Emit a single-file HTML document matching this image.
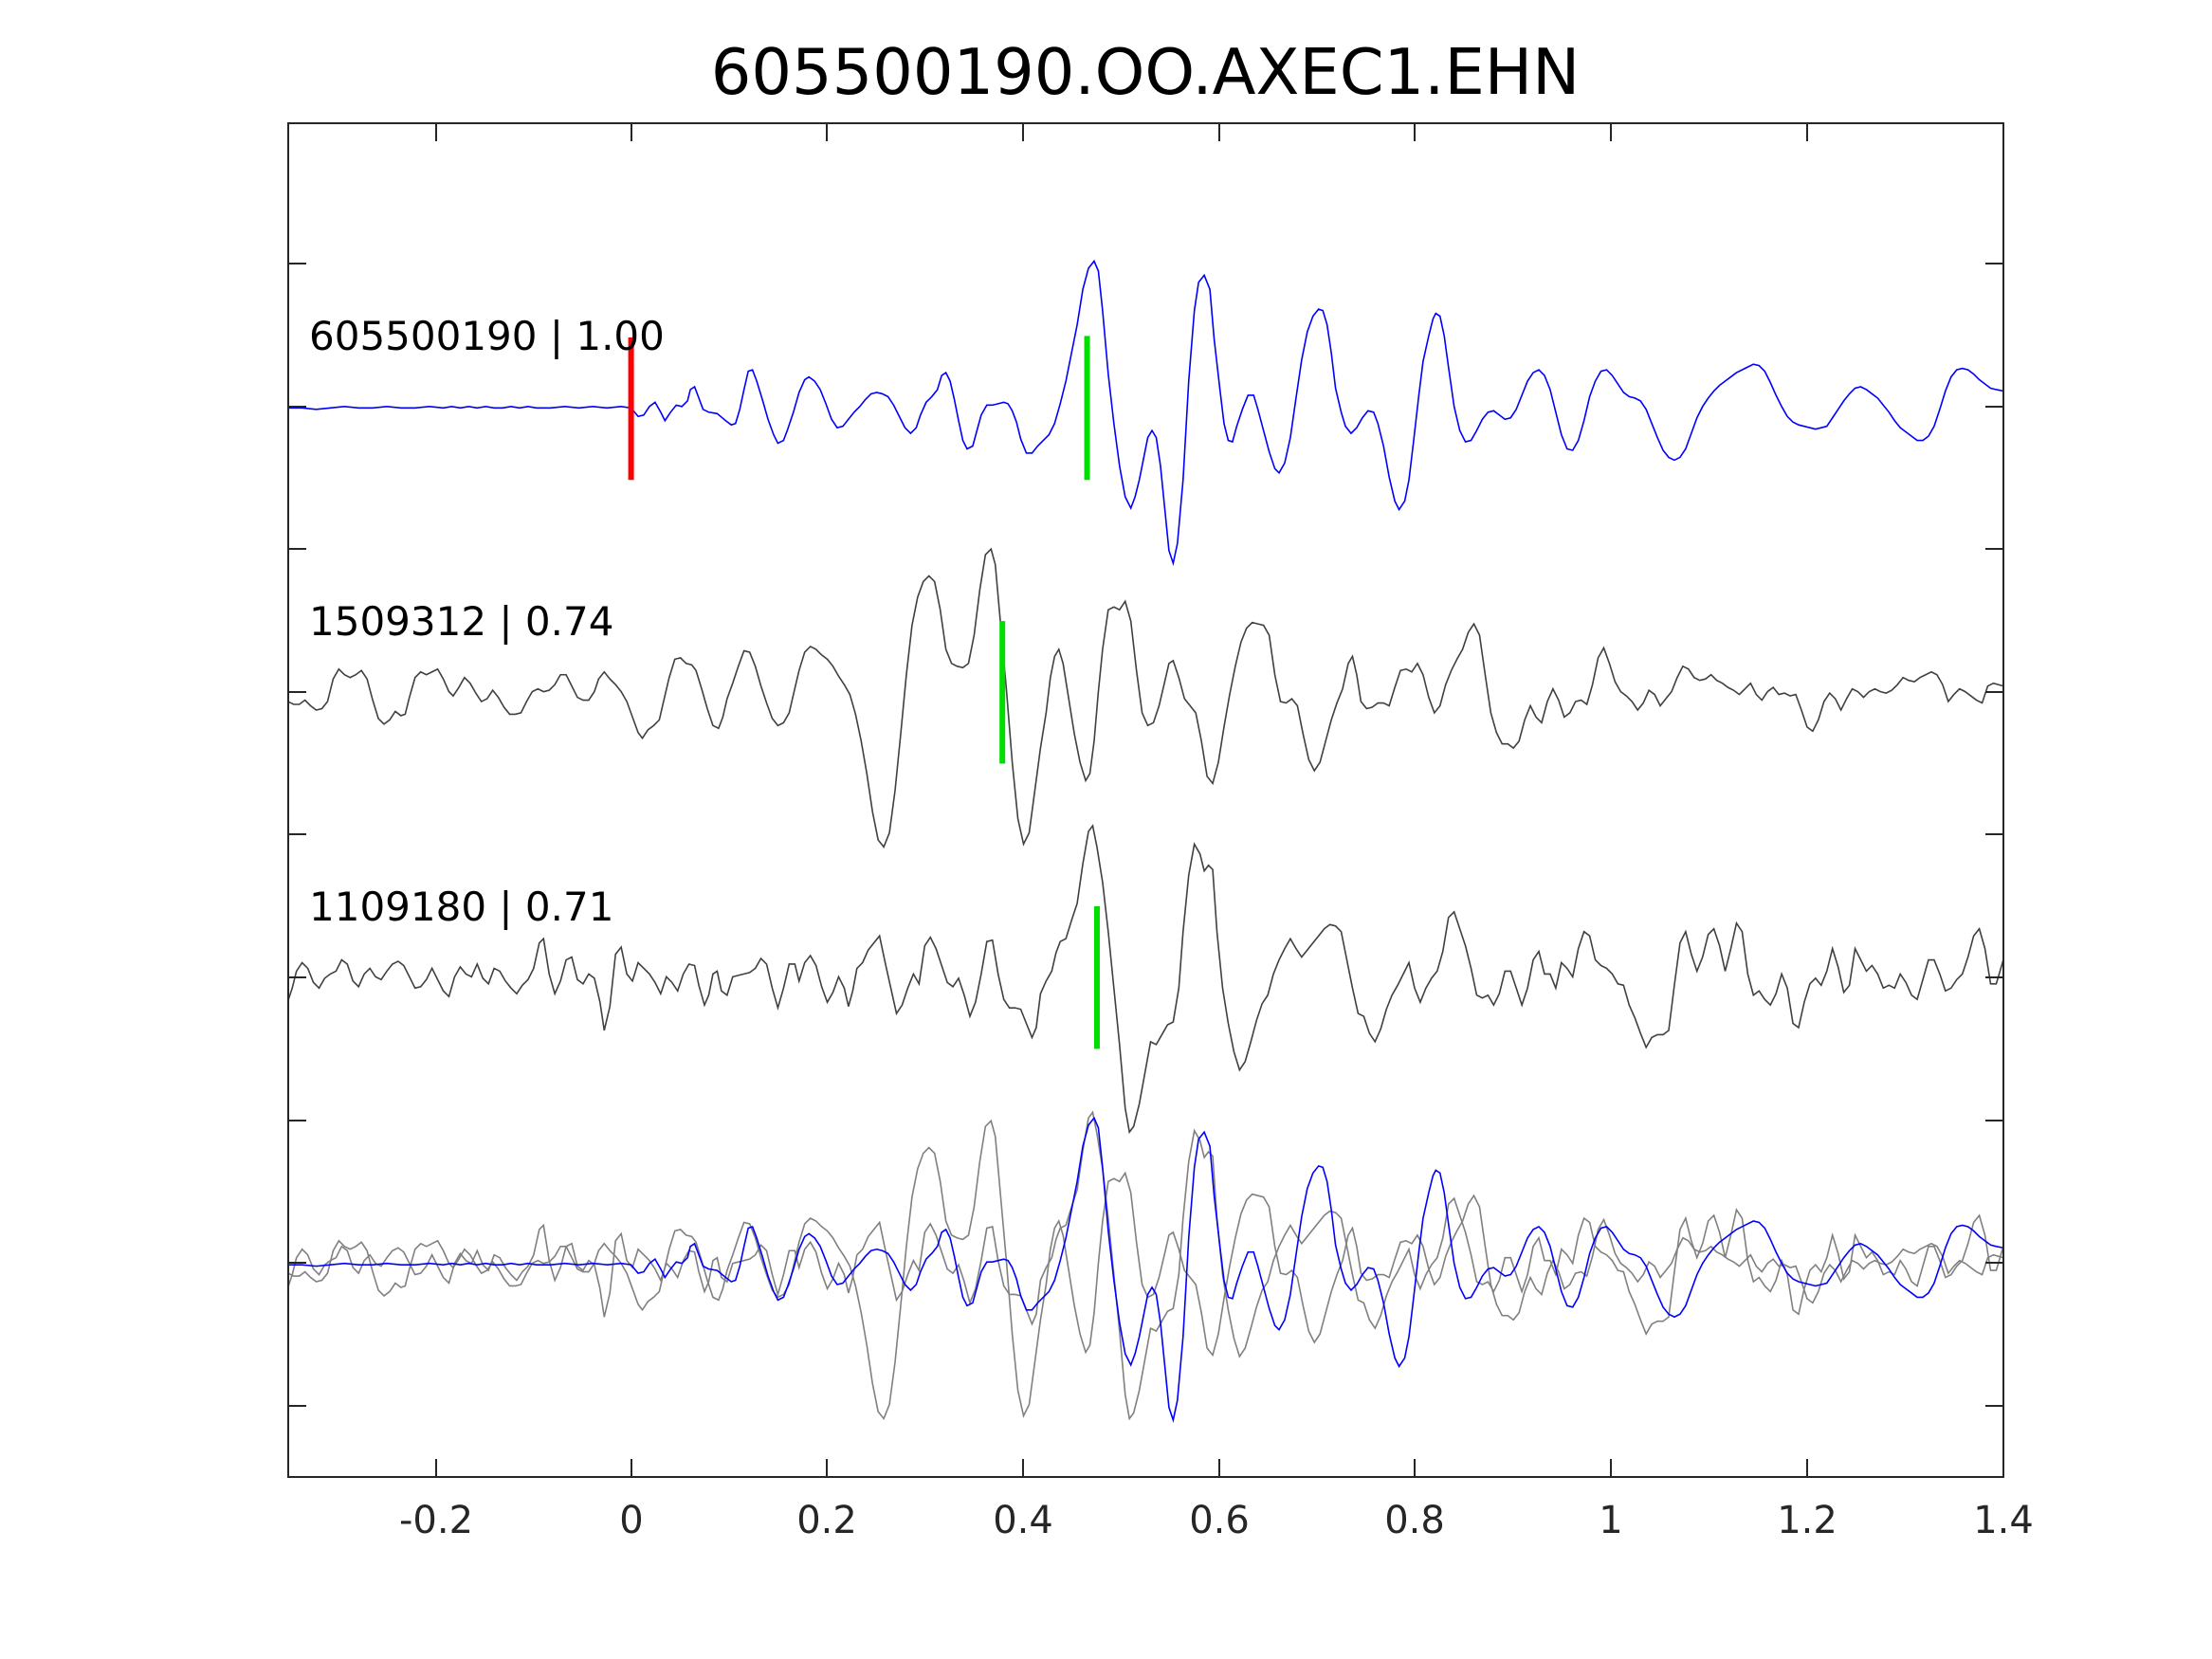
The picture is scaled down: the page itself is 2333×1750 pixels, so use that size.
<!DOCTYPE html>
<html><head><meta charset="utf-8"><style>
html,body{margin:0;padding:0;background:#fff;}
svg{display:block;}
text{font-family:"DejaVu Sans","Liberation Sans",sans-serif;}
</style></head><body>
<svg width="2333" height="1750" viewBox="0 0 2333 1750" xmlns="http://www.w3.org/2000/svg">
<rect width="2333" height="1750" fill="#fff"/>
<text x="1208" y="99" font-size="67" text-anchor="middle" fill="#000">605500190.OO.AXEC1.EHN</text>
<defs>
<polyline id="t1" fill="none" stroke="#0000ff" stroke-width="1.6" vector-effect="non-scaling-stroke" points="204,289 214,289 224,290 234,289 244,288 254,289 264,289 274,288 284,289 294,289 304,288 314,289 320,288 326,289 332,288 338,289 344,288 350,289 356,289 362,288 368,289 374,288 380,289 390,289 400,288 410,289 420,288 430,289 440,288 447,289 452,295 456,294 460,288 464,285 468,292 471,298 475,292 479,287 483,288 487,284 489,276 492,274 495,282 498,290 502,292 508,293 514,298 518,301 521,300 524,290 527,276 530,263 533,262 536,270 540,283 544,297 548,308 551,314 555,312 558,304 562,292 566,278 570,269 573,267 577,270 581,276 585,286 589,297 593,303 597,302 601,297 605,292 609,288 613,283 617,279 621,278 625,279 629,281 633,287 637,295 641,303 645,307 649,303 652,294 656,285 660,281 664,276 667,266 670,264 673,270 676,283 679,298 682,312 685,318 689,316 692,305 695,294 699,287 703,287 707,286 711,285 714,286 717,291 720,299 723,311 727,321 731,321 735,316 739,312 743,308 747,300 751,286 755,270 759,250 763,230 767,205 771,190 775,185 778,192 781,220 785,265 789,300 793,330 797,352 801,360 804,352 807,340 810,325 813,310 816,305 819,310 822,330 825,360 828,390 831,399 834,385 838,340 842,270 846,220 849,200 853,195 857,205 860,240 864,275 867,300 870,312 873,313 876,302 880,290 884,280 888,280 891,290 895,305 899,320 903,332 906,335 910,328 914,310 918,282 922,255 926,235 930,224 934,219 937,220 940,230 943,250 946,275 950,292 953,302 957,307 961,303 965,296 969,291 973,292 976,300 980,316 984,338 988,355 991,361 995,355 998,340 1001,315 1005,280 1008,256 1012,238 1015,226 1017,222 1020,224 1023,238 1026,260 1030,288 1034,305 1038,313 1042,312 1046,305 1050,297 1054,292 1058,291 1062,294 1066,297 1070,296 1074,290 1078,280 1082,270 1086,264 1090,262 1094,266 1098,276 1102,292 1106,308 1110,318 1114,319 1118,312 1122,298 1126,281 1130,270 1134,263 1138,262 1142,266 1146,272 1150,278 1154,281 1158,282 1162,284 1166,290 1170,300 1174,310 1178,319 1182,324 1186,326 1190,324 1194,318 1198,307 1202,296 1206,288 1210,282 1214,277 1218,273 1222,270 1226,267 1230,264 1234,262 1238,260 1242,258 1246,259 1250,263 1254,271 1258,280 1262,288 1266,295 1270,299 1274,301 1278,302 1282,303 1286,304 1290,303 1294,302 1298,296 1302,290 1306,284 1310,279 1314,275 1318,274 1322,276 1326,279 1330,282 1334,287 1338,292 1342,298 1346,303 1350,306 1354,309 1358,312 1362,312 1366,309 1370,302 1374,290 1378,277 1382,267 1386,262 1390,261 1394,262 1398,265 1402,269 1406,272 1410,275 1414,276 1419,277"/>
<polyline id="t2" fill="none" stroke-width="1.6" vector-effect="non-scaling-stroke" points="204,497 208,499 212,499 216,496 220,500 224,503 228,502 232,497 236,481 240,474 244,478 248,480 252,478 256,475 260,481 264,496 268,509 272,513 276,510 280,504 284,507 287,506 290,494 294,480 298,476 302,478 306,476 310,474 314,481 318,490 321,493 325,487 329,480 333,484 337,491 341,497 345,495 349,489 353,494 357,501 361,506 365,506 369,505 373,497 377,490 381,488 385,490 389,489 393,485 397,478 401,478 405,486 409,494 413,496 417,496 421,490 424,481 428,476 432,481 436,485 440,490 444,497 448,508 452,519 455,523 459,517 463,514 467,510 470,497 474,480 478,467 482,466 486,470 490,471 493,475 497,488 501,502 505,514 509,516 512,508 515,495 519,484 523,472 527,461 531,462 535,472 539,486 543,498 547,509 551,514 555,512 559,505 562,492 566,475 570,462 574,458 578,460 582,464 586,467 590,472 594,479 598,485 602,492 606,506 610,525 614,548 618,575 622,595 626,600 630,590 634,560 638,520 642,478 646,443 650,423 654,412 658,408 662,412 666,432 670,460 674,470 678,472 682,473 686,470 690,450 694,418 698,393 702,389 705,400 709,445 713,490 717,540 721,580 725,598 729,590 733,560 737,530 741,505 744,480 747,465 750,460 753,470 757,495 761,520 765,540 769,553 772,548 775,525 778,490 781,460 785,432 789,430 793,432 797,426 801,440 805,475 809,505 813,514 817,512 821,500 825,483 828,470 831,468 835,480 839,495 843,500 847,505 851,525 855,550 859,555 863,540 867,515 871,492 875,472 879,455 883,445 887,441 891,442 895,443 899,450 903,478 907,497 911,498 915,495 919,500 923,520 927,538 931,546 935,540 939,525 943,510 947,498 951,488 955,470 958,465 961,478 964,497 968,502 972,501 976,498 980,498 984,500 988,487 992,475 996,474 1000,476 1004,470 1008,478 1012,494 1016,505 1020,500 1024,485 1028,475 1032,467 1036,460 1040,448 1044,442 1048,450 1052,478 1056,505 1060,519 1064,527 1068,527 1072,530 1076,525 1080,510 1084,500 1088,508 1092,512 1096,497 1100,488 1104,496 1108,508 1112,505 1116,497 1120,496 1124,499 1128,485 1132,466 1136,459 1140,470 1144,483 1148,490 1152,493 1156,497 1160,503 1164,498 1168,489 1172,492 1176,500 1180,495 1184,490 1188,480 1192,472 1196,474 1200,480 1204,482 1208,481 1212,478 1216,482 1220,484 1224,487 1228,489 1232,492 1236,488 1240,484 1244,492 1248,496 1252,490 1256,487 1260,492 1264,491 1268,493 1272,492 1276,503 1280,515 1284,518 1288,510 1292,497 1296,491 1300,495 1304,503 1308,495 1312,488 1316,490 1320,494 1324,490 1328,488 1332,490 1336,491 1340,489 1344,485 1348,480 1352,482 1356,483 1360,480 1364,478 1368,476 1372,478 1376,485 1380,497 1384,492 1388,488 1392,490 1396,493 1400,496 1404,498 1408,486 1412,484 1419,486"/>
<polyline id="t3" fill="none" stroke-width="1.6" vector-effect="non-scaling-stroke" points="204,709 207,700 210,688 214,682 218,686 222,696 226,700 230,693 234,690 238,688 242,680 246,683 250,695 254,699 258,690 262,686 266,692 270,694 274,688 278,683 282,681 286,684 290,692 294,700 298,699 302,694 306,686 310,694 314,702 318,706 322,692 326,685 330,690 334,692 338,683 342,693 346,697 350,686 354,688 358,695 362,700 366,704 370,698 374,694 378,686 382,668 385,665 389,690 393,704 397,695 401,680 405,678 409,694 413,697 417,690 421,693 425,710 428,730 432,713 436,676 440,671 444,690 448,695 452,682 456,686 460,690 464,696 468,704 472,692 476,696 480,702 484,690 488,683 492,684 495,698 499,712 502,705 505,690 508,688 511,702 515,705 519,692 523,691 527,690 531,689 535,686 539,679 543,683 547,700 551,714 555,700 559,683 563,683 566,695 570,682 574,677 578,684 582,699 586,710 590,703 594,692 598,700 601,713 604,702 607,686 611,682 615,673 619,668 623,663 627,682 631,700 635,718 639,712 643,700 647,690 651,697 655,670 659,664 663,672 667,684 671,696 675,699 679,693 683,705 687,720 691,710 695,690 699,667 703,666 707,690 711,708 715,714 719,714 723,715 727,725 731,735 734,728 737,704 741,695 745,688 748,675 751,667 755,665 759,652 763,640 767,612 771,589 774,585 777,600 781,625 785,660 789,700 793,740 797,785 800,802 803,798 807,782 811,760 815,738 819,740 823,733 827,726 831,724 835,700 838,660 842,620 846,598 850,605 853,617 856,613 859,616 862,660 866,700 870,725 874,745 878,758 882,752 886,738 890,723 894,711 898,705 902,690 906,680 910,672 914,665 918,672 922,678 926,673 930,668 934,663 938,658 942,655 946,656 950,660 954,680 958,700 962,718 966,720 970,732 974,738 978,729 982,715 986,705 990,698 994,690 998,682 1002,700 1006,710 1010,700 1014,693 1018,688 1022,674 1026,650 1030,646 1034,658 1038,670 1042,686 1046,705 1050,707 1054,705 1058,712 1062,704 1066,688 1070,688 1074,700 1078,712 1082,700 1086,680 1090,674 1094,690 1098,690 1102,700 1106,682 1110,686 1114,692 1118,672 1122,660 1126,663 1130,680 1134,684 1138,686 1142,690 1146,697 1150,698 1154,712 1158,721 1162,732 1166,742 1170,735 1174,733 1178,733 1182,730 1186,698 1190,668 1194,660 1198,676 1202,688 1206,678 1210,662 1214,658 1218,670 1222,688 1226,672 1230,654 1234,660 1238,690 1242,705 1246,702 1250,708 1254,712 1258,704 1262,690 1266,700 1270,725 1274,728 1278,710 1282,697 1286,693 1290,698 1294,688 1298,672 1302,685 1306,703 1310,698 1314,672 1318,680 1322,688 1326,684 1330,690 1334,700 1338,698 1342,700 1346,690 1350,696 1354,705 1358,708 1362,694 1366,680 1370,680 1374,690 1378,702 1382,700 1386,694 1390,690 1394,678 1398,663 1402,658 1406,672 1410,697 1414,697 1419,680"/>
<clipPath id="ax"><rect x="204" y="87" width="1215" height="960"/></clipPath>
</defs>
<g transform="scale(1.489)" clip-path="url(#ax)">
  <use href="#t2" stroke="#404040"/>
  <use href="#t3" stroke="#404040"/>
  <use href="#t1"/>
  <g transform="translate(0,405)"><use href="#t2" stroke="#808080"/></g>
  <g transform="translate(0,203)"><use href="#t3" stroke="#808080"/></g>
  <g transform="translate(0,607)"><use href="#t1"/></g>
  <line x1="447" y1="239" x2="447" y2="340" stroke="#ff0000" stroke-width="6" vector-effect="non-scaling-stroke"/>
  <line x1="770" y1="238" x2="770" y2="340" stroke="#00dd00" stroke-width="6" vector-effect="non-scaling-stroke"/>
  <line x1="710" y1="440" x2="710" y2="541" stroke="#00dd00" stroke-width="6" vector-effect="non-scaling-stroke"/>
  <line x1="777" y1="642" x2="777" y2="743" stroke="#00dd00" stroke-width="6" vector-effect="non-scaling-stroke"/>
</g>
<g font-size="42" fill="#000">
  <text x="326" y="369">605500190 | 1.00</text>
  <text x="326" y="670">1509312 | 0.74</text>
  <text x="326" y="971">1109180 | 0.71</text>
</g>
<g stroke="#262626" stroke-width="2" fill="none">
  <rect x="304" y="130" width="1809" height="1428"/>
  <path d="M460,1558v-19M666,1558v-19M872,1558v-19M1079,1558v-19M1286,1558v-19M1492,1558v-19M1699,1558v-19M1906,1558v-19
           M460,130v19M666,130v19M872,130v19M1079,130v19M1286,130v19M1492,130v19M1699,130v19M1906,130v19
           M304,1483h19M304,1332h19M304,1182h19M304,1031h19M304,880h19M304,730h19M304,579h19M304,429h19M304,278h19
           M2113,1483h-19M2113,1332h-19M2113,1182h-19M2113,1031h-19M2113,880h-19M2113,730h-19M2113,579h-19M2113,429h-19M2113,278h-19"/>
</g>
<g font-size="40" fill="#262626" text-anchor="middle">
  <text x="460" y="1617">-0.2</text>
  <text x="666" y="1617">0</text>
  <text x="872" y="1617">0.2</text>
  <text x="1079" y="1617">0.4</text>
  <text x="1286" y="1617">0.6</text>
  <text x="1492" y="1617">0.8</text>
  <text x="1699" y="1617">1</text>
  <text x="1906" y="1617">1.2</text>
  <text x="2113" y="1617">1.4</text>
</g>
</svg>
</body></html>
